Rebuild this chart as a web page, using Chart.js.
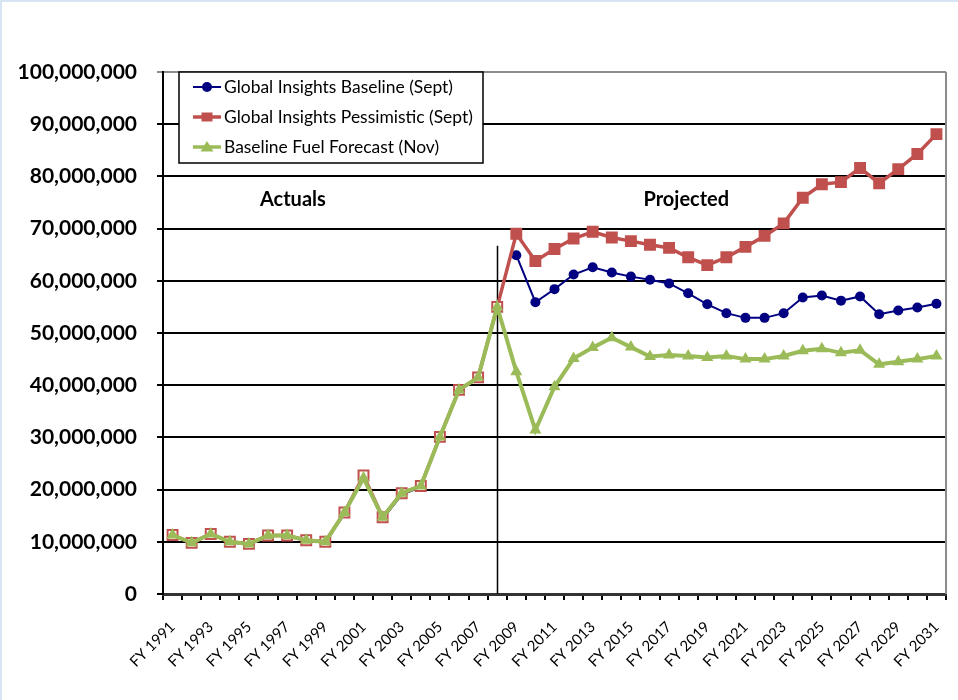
<!DOCTYPE html>
<html>
<head>
<meta charset="utf-8">
<script src="https://cdn.jsdelivr.net/npm/chart.js@4/dist/chart.umd.min.js"></script>
<style>
  html, body { margin: 0; padding: 0; }
  body { width: 958px; height: 700px; background: #d6e4f5; position: relative; overflow: hidden; }
  #wrap { position: absolute; left: 2px; top: 2px; width: 956px; height: 698px; background: #fff; }
</style>
</head>
<body>
<div id="wrap"><canvas id="fuel-chart" width="956" height="698"></canvas></div>
<script>
// fiscal years on the x axis
const years = [
  'FY 1991', 'FY 1992', 'FY 1993', 'FY 1994', 'FY 1995', 'FY 1996', 'FY 1997', 'FY 1998', 'FY 1999', 'FY 2000',
  'FY 2001', 'FY 2002', 'FY 2003', 'FY 2004', 'FY 2005', 'FY 2006', 'FY 2007', 'FY 2008', 'FY 2009', 'FY 2010',
  'FY 2011', 'FY 2012', 'FY 2013', 'FY 2014', 'FY 2015', 'FY 2016', 'FY 2017', 'FY 2018', 'FY 2019', 'FY 2020',
  'FY 2021', 'FY 2022', 'FY 2023', 'FY 2024', 'FY 2025', 'FY 2026', 'FY 2027', 'FY 2028', 'FY 2029', 'FY 2030',
  'FY 2031'
];

// values in millions
const giBaseline = [
  11.3, 9.8, 11.5, 10.0, 9.6, 11.2, 11.2, 10.3, 10.0, 15.6,
  22.0, 14.4, 19.0, 20.5, 30.0, 39.0, 41.4, 55.0, 64.9, 55.9,
  58.4, 61.2, 62.6, 61.6, 60.8, 60.2, 59.5, 57.6, 55.5, 53.8,
  52.9, 52.9, 53.8, 56.8, 57.2, 56.2, 57.0, 53.6, 54.3, 54.9,
  55.6
];
const giPessimistic = [
  11.3, 9.8, 11.5, 10.0, 9.6, 11.2, 11.2, 10.3, 10.0, 15.6,
  22.7, 14.7, 19.3, 20.7, 30.1, 39.1, 41.5, 55.0, 69.0, 63.8,
  66.1, 68.1, 69.4, 68.3, 67.6, 66.9, 66.3, 64.5, 63.0, 64.5,
  66.5, 68.6, 71.0, 75.9, 78.5, 78.9, 81.6, 78.7, 81.4, 84.3,
  88.1
];
const fuelForecast = [
  11.3, 9.8, 11.5, 10.0, 9.6, 11.2, 11.2, 10.3, 10.0, 15.6,
  22.2, 14.7, 19.3, 20.7, 30.1, 39.1, 41.5, 55.0, 42.6, 31.4,
  39.7, 45.1, 47.2, 49.1, 47.3, 45.5, 45.8, 45.6, 45.3, 45.6,
  45.0, 45.0, 45.6, 46.6, 47.0, 46.2, 46.7, 44.0, 44.5, 45.0,
  45.6
];

const lastActual = 17;      // FY 2008
const dividerTop = 66.7;    // where the actuals/projected line stops

const NAVY = '#000080';
const RED = '#c0504d';
const GREEN = '#9bbb59';

Chart.defaults.font.family = 'Lato, "Open Sans", sans-serif';
Chart.defaults.color = '#000';

const series = [
  { label: 'Global Insights Baseline (Sept)', color: NAVY, style: 'circle' },
  { label: 'Global Insights Pessimistic (Sept)', color: RED, style: 'rect' },
  { label: 'Baseline Fuel Forecast (Nov)', color: GREEN, style: 'triangle' }
];

function drawMarker(ctx, style, x, y, color) {
  ctx.fillStyle = color;
  ctx.beginPath();
  if (style === 'circle') {
    ctx.arc(x, y, 5, 0, Math.PI * 2);
  } else if (style === 'rect') {
    ctx.rect(x - 5.5, y - 4.5, 11, 9);
  } else {
    ctx.moveTo(x, y - 6);
    ctx.lineTo(x + 6.5, y + 4.5);
    ctx.lineTo(x - 6.5, y + 4.5);
    ctx.closePath();
  }
  ctx.fill();
}

const overlay = {
  id: 'overlay',
  beforeDatasetsDraw(chart) {
    const { ctx, chartArea: a, scales: { x, y } } = chart;
    ctx.save();
    // right border of the plot
    ctx.strokeStyle = '#8c8c8c';
    ctx.lineWidth = 2;
    ctx.beginPath();
    ctx.moveTo(a.right, a.top);
    ctx.lineTo(a.right, a.bottom);
    ctx.stroke();
    // actuals / projected divider
    const dx = Math.round(x.getPixelForValue(lastActual)) + 0.5;
    ctx.strokeStyle = '#000';
    ctx.lineWidth = 1.5;
    ctx.beginPath();
    ctx.moveTo(dx, y.getPixelForValue(dividerTop));
    ctx.lineTo(dx, a.bottom);
    ctx.stroke();
    // section labels
    ctx.font = 'bold 20px Lato, sans-serif';
    ctx.fillStyle = '#000';
    ctx.textAlign = 'center';
    ctx.textBaseline = 'middle';
    ctx.fillText('Actuals', x.getPixelForValue(6.3), y.getPixelForValue(75.5));
    ctx.fillText('Projected', x.getPixelForValue(26.9), y.getPixelForValue(75.5));
    ctx.restore();
  },
  afterDraw(chart) {
    const { ctx, chartArea: a } = chart;
    const bx = a.left + 16, by = a.top, bw = 304, bh = 91;
    ctx.save();
    ctx.fillStyle = '#fff';
    ctx.fillRect(bx, by, bw, bh);
    ctx.strokeStyle = '#000';
    ctx.lineWidth = 1.5;
    ctx.strokeRect(bx, by, bw, bh);
    ctx.font = '17px Lato, sans-serif';
    ctx.textBaseline = 'middle';
    ctx.textAlign = 'left';
    // the source text is a little wider than Lato, stretch to fit
    const sx = 229 / ctx.measureText(series[0].label).width;
    series.forEach((s, i) => {
      const ry = by + 15 + i * 30;
      ctx.strokeStyle = s.color;
      ctx.lineWidth = s.style === 'circle' ? 2 : 3.5;
      ctx.beginPath();
      ctx.moveTo(bx + 14, ry);
      ctx.lineTo(bx + 42, ry);
      ctx.stroke();
      drawMarker(ctx, s.style, bx + 28, ry, s.color);
      ctx.save();
      ctx.translate(bx + 45, ry + 1);
      ctx.scale(sx, 1);
      ctx.fillStyle = '#000';
      ctx.fillText(s.label, 0, 0);
      ctx.restore();
    });
    ctx.restore();
  }
};

const ctx = document.getElementById('fuel-chart').getContext('2d');
new Chart(ctx, {
  type: 'line',
  data: {
    labels: years,
    datasets: [
      {
        label: series[0].label,
        data: giBaseline,
        borderColor: NAVY,
        backgroundColor: NAVY,
        borderWidth: 2,
        pointStyle: 'circle',
        pointRadius: giBaseline.map((v, i) => i <= lastActual ? 0 : 5),
        pointBorderWidth: 0,
        segment: { borderColor: c => c.p0DataIndex === lastActual ? 'rgba(0,0,0,0)' : undefined },
        order: 3
      },
      {
        label: series[1].label,
        data: giPessimistic,
        borderColor: RED,
        backgroundColor: RED,
        borderWidth: 3.5,
        pointStyle: 'rect',
        pointRadius: 7,
        pointBorderWidth: 2,
        pointBackgroundColor: giPessimistic.map((v, i) => i <= lastActual ? '#fff' : RED),
        order: 2
      },
      {
        label: series[2].label,
        data: fuelForecast,
        borderColor: GREEN,
        backgroundColor: GREEN,
        borderWidth: 4,
        pointStyle: 'triangle',
        pointRadius: 7,
        pointBorderWidth: 0,
        order: 1
      }
    ]
  },
  options: {
    responsive: false,
    animation: false,
    layout: { padding: { top: 70, right: 12, left: 0, bottom: 0 } },
    plugins: {
      legend: { display: false },
      tooltip: { enabled: false }
    },
    elements: { line: { tension: 0 } },
    scales: {
      x: {
        offset: true,
        grid: {
          offset: true,
          drawOnChartArea: false,
          drawTicks: true,
          tickLength: 6,
          color: '#000',
          lineWidth: 2
        },
        border: { color: '#333', width: 3 },
        ticks: {
          autoSkip: false,
          minRotation: 45,
          maxRotation: 45,
          padding: 18,
          font: { size: 15 },
          callback: function(val, i) { return i % 2 === 0 ? this.getLabelForValue(val) : ''; }
        },
        afterFit: s => {
          s.height = 106;
          s.paddingLeft = 0;
          s.paddingRight = 0;
        }
      },
      y: {
        min: 0,
        max: 100,
        grid: {
          color: c => c.tick && c.tick.value === 100 ? '#8c8c8c' : '#000',
          lineWidth: 2,
          tickLength: 6
        },
        border: { color: '#000', width: 2 },
        ticks: {
          stepSize: 10,
          padding: 20,
          font: { size: 21, weight: 'bold' },
          callback: v => (v * 1000000).toLocaleString('en-US')
        },
        afterFit: s => { s.width = 161; }
      }
    }
  },
  plugins: [overlay]
});
</script>
</body>
</html>
